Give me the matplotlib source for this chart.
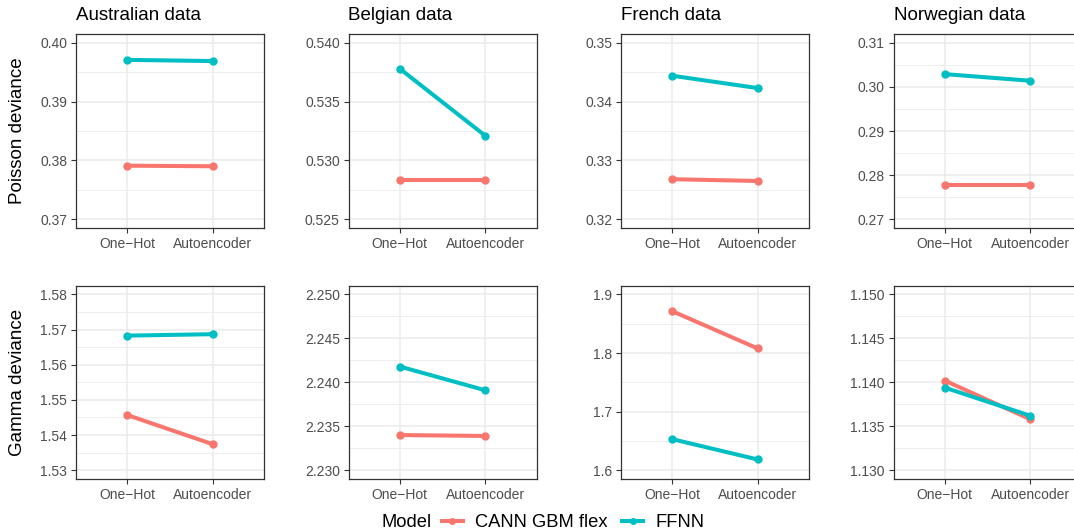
import matplotlib as mpl
mpl.use('Agg')
import matplotlib.pyplot as plt
from matplotlib.lines import Line2D
import numpy as np

plt.rcParams['font.family'] = ['Liberation Sans', 'DejaVu Sans']

# ---- data ----
datasets = ["Australian data", "Belgian data", "French data", "Norwegian data"]
encodings = ["One\u2212Hot", "Autoencoder"]
models = ["CANN GBM flex", "FFNN"]
colors = ["#F8766D", "#00BFC4"]

poisson_cann = [[0.3791, 0.3790], [0.5283, 0.5283], [0.3268, 0.3265], [0.2778, 0.2778]]
poisson_ffnn = [[0.3971, 0.3969], [0.5378, 0.5321], [0.3444, 0.3423], [0.3029, 0.3014]]
gamma_cann = [[1.5457, 1.5374], [2.2340, 2.2339], [1.8715, 1.8078], [1.1402, 1.1358]]
gamma_ffnn = [[1.5683, 1.5687], [2.2418, 2.2391], [1.6530, 1.6183], [1.1394, 1.1362]]

poisson_ticks = [[0.37, 0.38, 0.39, 0.40],
                 [0.525, 0.530, 0.535, 0.540],
                 [0.32, 0.33, 0.34, 0.35],
                 [0.27, 0.28, 0.29, 0.30, 0.31]]
gamma_ticks = [[1.53, 1.54, 1.55, 1.56, 1.57, 1.58],
               [2.230, 2.235, 2.240, 2.245, 2.250],
               [1.6, 1.7, 1.8, 1.9],
               [1.130, 1.135, 1.140, 1.145, 1.150]]
poisson_dec = [2, 3, 2, 2]
gamma_dec = [2, 3, 1, 3]

rows = [("Poisson deviance", poisson_cann, poisson_ffnn, poisson_ticks, poisson_dec),
        ("Gamma deviance", gamma_cann, gamma_ffnn, gamma_ticks, gamma_dec)]

W, H = 1074, 531
fig = plt.figure(figsize=(W / 100, H / 100), dpi=100)

col_left = [76, 348.5, 621, 893.5]
panel_w = 188
row_top = [34, 285.7]
row_bot = [228, 479]

for r, (ylab, cann, ffnn, ticks, dec) in enumerate(rows):
    for c in range(4):
        ax = fig.add_axes([col_left[c] / W, 1 - row_bot[r] / H,
                           panel_w / W, (row_bot[r] - row_top[r]) / H])
        xs = np.arange(len(encodings))
        for vals, col in zip([cann[c], ffnn[c]], colors):
            ax.plot(xs, vals, color=col, lw=2.9, marker='o', markersize=5,
                    solid_capstyle='butt', zorder=3)
        t = ticks[c]
        lo, hi = t[0], t[-1]
        pad = 0.05 * (hi - lo)
        ax.set_ylim(lo - pad, hi + pad)
        ax.set_yticks(t)
        ax.set_yticklabels([f"{v:.{dec[c]}f}" for v in t])
        step = t[1] - t[0]
        ax.set_yticks([v + step / 2 for v in t[:-1]], minor=True)
        ax.set_xlim(-0.6, 1.6)
        ax.set_xticks(xs)
        ax.set_xticklabels(encodings)
        ax.grid(True, which='major', color='#EBEBEB', lw=1.1, zorder=0)
        ax.grid(True, which='minor', axis='y', color='#EBEBEB', lw=0.6, zorder=0)
        ax.tick_params(which='major', length=3.8, width=0.8, color='#333333',
                       labelcolor='#4D4D4D', labelsize=10, pad=2.5)
        ax.tick_params(which='minor', length=0)
        for s in ax.spines.values():
            s.set_color('#333333')
            s.set_linewidth(0.9)
        ax.set_axisbelow(True)
        if r == 0:
            ax.set_title(datasets[c], loc='left', fontsize=13.5, pad=10)
    yc = 1 - (row_top[r] + row_bot[r]) / 2 / H
    fig.text(17.5 / W, yc, ylab, rotation=90, ha='center', va='center',
             fontsize=13.5)

# legend at the bottom
handles = [Line2D([], [], color=col, lw=2.9, marker='o', markersize=4)
           for col in colors]
fig.text(381.7 / W, 1 - 522.5 / H, "Model", ha='left', va='center', fontsize=13.2)
fig.legend(handles, models, loc='center left', bbox_to_anchor=(441.7 / W, 1 - 522.5 / H),
           ncol=2, frameon=False, fontsize=13.2, handlelength=1.15,
           handletextpad=0.67, columnspacing=0.78, borderpad=0, borderaxespad=0,
           numpoints=1)

fig.savefig('out.png', dpi=100)
